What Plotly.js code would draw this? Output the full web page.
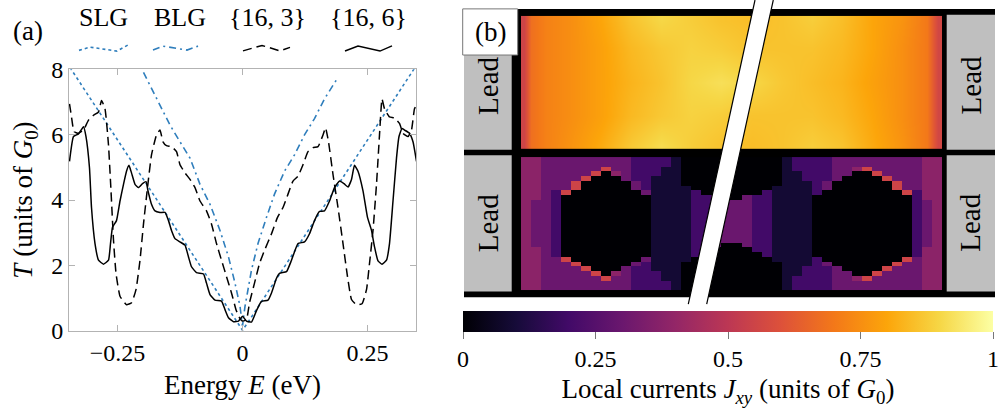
<!DOCTYPE html>
<html><head><meta charset="utf-8">
<script src="https://cdn.plot.ly/plotly-3.0.1.min.js"></script>
<style>html,body{margin:0;padding:0;background:#fff}#chart{width:1003px;height:408px}</style>
</head><body><div id="chart"></div>
<script>
// ---------- Panel (a) data: transmission T vs energy E ----------
const slgE = [-0.345,-0.3,-0.25,-0.2,-0.15,-0.1,-0.05,-0.02,0,0.02,0.05,0.1,0.15,0.2,0.25,0.3,0.345];
const slgT = [8.05,7.0,5.85,4.68,3.5,2.34,1.17,0.47,0.02,0.47,1.17,2.34,3.5,4.68,5.85,7.0,8.05];

const blgE = [-0.198,-0.172,-0.145,-0.125,-0.105,-0.085,-0.065,-0.045,-0.028,-0.015,-0.005,0,0.005,0.018,0.031,0.048,0.064,0.084,0.104,0.124,0.144,0.164,0.191];
const blgT = [7.9,7.09,6.29,5.78,5.28,4.48,3.87,3.07,2.26,1.46,0.75,0.15,0.75,1.86,2.67,3.47,4.18,4.88,5.38,5.99,6.49,7.09,7.75];

const e163 = [-0.346,-0.342,-0.337,-0.328,-0.318,-0.308,-0.298,-0.288,-0.282,-0.275,-0.268,-0.263,-0.258,-0.253,-0.245,-0.232,-0.222,-0.213,-0.205,-0.198,-0.190,-0.182,-0.172,-0.165,-0.159,-0.152,-0.142,-0.132,-0.125,-0.115,-0.105,-0.095,-0.085,-0.072,-0.062,-0.052,-0.042,-0.032,-0.022,-0.013,-0.006,0,
  0.008,0.014,0.024,0.034,0.044,0.058,0.070,0.081,0.091,0.101,0.111,0.121,0.131,0.141,0.151,0.161,0.166,0.172,0.181,0.191,0.201,0.210,0.218,0.228,0.239,0.248,0.254,0.261,0.268,0.274,0.279,0.284,0.294,0.304,0.314,0.321,0.331,0.338,0.344,0.348];
const t163 = [6.94,6.54,6.09,6.04,6.14,6.44,6.59,6.69,7.04,6.79,5.68,4.28,2.77,1.76,1.06,0.80,0.86,1.26,2.16,3.27,4.38,5.38,5.99,6.14,5.78,5.66,5.63,5.48,5.08,4.83,4.63,4.38,3.97,3.67,3.27,2.67,2.16,1.66,1.16,0.65,0.40,0.30,
  0.35,0.86,1.46,2.06,2.46,2.97,3.47,3.77,4.18,4.58,4.73,5.08,5.48,5.60,5.63,5.99,6.21,5.78,4.78,3.77,2.67,1.66,0.96,0.80,0.83,1.26,2.06,3.07,4.48,5.99,7.09,6.79,6.54,6.51,6.34,6.04,5.94,6.14,6.79,6.89];

const e166 = [-0.346,-0.338,-0.328,-0.318,-0.313,-0.306,-0.302,-0.295,-0.288,-0.278,-0.268,-0.264,-0.260,-0.252,-0.245,-0.238,-0.232,-0.227,-0.222,-0.215,-0.208,-0.200,-0.193,-0.189,-0.182,-0.175,-0.165,-0.155,-0.148,-0.142,-0.135,-0.125,-0.115,-0.108,-0.102,-0.092,-0.078,-0.072,-0.065,-0.055,-0.042,-0.035,-0.028,-0.018,-0.008,0,
  0.008,0.018,0.028,0.038,0.051,0.058,0.068,0.074,0.088,0.098,0.111,0.124,0.134,0.144,0.154,0.164,0.174,0.184,0.194,0.203,0.211,0.218,0.224,0.231,0.241,0.250,0.258,0.264,0.271,0.279,0.288,0.294,0.301,0.308,0.313,0.319,0.324,0.334,0.341,0.348];
const t166 = [5.18,5.94,6.02,6.24,5.94,4.98,3.77,2.67,2.16,2.04,2.16,2.67,3.17,3.37,3.97,4.48,4.88,5.06,4.83,4.48,4.38,4.50,4.56,4.28,3.87,3.67,3.62,3.62,3.37,3.07,2.82,2.72,2.62,2.26,1.96,1.78,1.74,1.46,1.11,0.94,0.91,0.65,0.40,0.28,0.30,0.45,
  0.30,0.27,0.62,0.90,0.94,1.16,1.61,1.76,1.81,2.16,2.67,2.72,2.97,3.37,3.65,3.67,3.97,4.38,4.58,4.50,4.40,4.63,5.06,4.88,4.28,3.47,3.07,2.57,2.14,2.04,2.16,2.67,3.97,5.28,5.94,6.19,6.14,6.04,5.78,5.18];

const seriesNames = ['SLG','BLG','{16, 3}','{16, 6}'];
const xTickVals = [-0.25, 0, 0.25];
const xTickText = ['\u22120.25', '0', '0.25'];
const yTickVals = [0, 2, 4, 6, 8];

// ---------- Panel (b) data: local currents ----------
// top map (pristine ribbon): coarse grid, smoothed
const mapTopX = [0.25,1.0,2.5,5,8,11,14,17,20,23,26,29,32,35,38,40.5,41.6];
const mapTopY = [0.5,3.5,7,10.5,13.5];
const mapTopZ = [
  [0.55,0.68,0.72,0.75,0.80,0.86,0.90,0.88,0.86,0.85,0.86,0.88,0.85,0.80,0.76,0.70,0.56],
  [0.55,0.68,0.72,0.75,0.79,0.84,0.87,0.89,0.88,0.86,0.86,0.86,0.84,0.80,0.75,0.70,0.56],
  [0.55,0.68,0.72,0.75,0.79,0.83,0.86,0.90,0.92,0.90,0.87,0.85,0.83,0.79,0.75,0.70,0.56],
  [0.55,0.68,0.72,0.75,0.79,0.84,0.87,0.89,0.88,0.86,0.86,0.86,0.84,0.80,0.75,0.70,0.56],
  [0.55,0.68,0.72,0.76,0.81,0.87,0.91,0.88,0.86,0.85,0.86,0.88,0.86,0.81,0.76,0.70,0.56]
];
// bottom map (device with antidots): one run-length string per column (left to right),
// cells top to bottom; "v*n" = n cells of level v, '.' = no current
const mapBottomCols = [
  "4*28", "4*9,3*10,4*9", "3*28", "3*7,2*14,3*7",
  "3*7,5,.*13,5,3*6", "3*5,5*2,.*15,5,3*5", "3*4,5,.*18,5,3*4", "3*3,5,.*20,5,3*3",
  "3*2,5,.*22,5,3*2", "3*3,4,.*20,4,3*3", "3*5,.*18,3*5", "2*5,3*2,.*15,3,2*5",
  "2*7,3,.*13,3,2*6", "2*4,1*20,2*4", "2*2,1*24,2*2", "1*28",
  ".*6,1*16,.*6", ".*7,2*14,.*7", ".*8,2*12,.*8", ".*8,3*11,.*9", ".*9,3*9,.*10",
  ".*9,3*9,.*10", ".*8,3*11,.*9", ".*8,2*12,.*8", ".*7,2*14,.*7", ".*6,1*16,.*6",
  "1*28", "2*3,1*22,2*3", "2*5,1*18,2*5", "2*8,.*13,2*7",
  "2*5,3*2,.*15,3,2*5", "3*5,.*18,3*5", "3*4,.*20,3*4", "3*2,4,.*22,4,3*2",
  "3*2,5,.*22,5,3*2", "3*3,5,.*20,5,3*3", "3*4,5,.*18,5,3*4", "3*5,5*2,.*15,5,3*5",
  "3*7,5,.*13,5,3*6", "3*7,2*14,3*7", "4*9,3*10,4*9", "4*28"
];
const bottomLevels = [0, 0.09, 0.2, 0.3, 0.38, 0.55];

const cbTickVals = [0, 0.25, 0.5, 0.75, 1];
const cbTickText = ['0', '0.25', '0.5', '0.75', '1'];

const inferno = [
  [0.0,'#000004'],[0.1,'#160b39'],[0.2,'#420a68'],[0.3,'#6a176e'],[0.4,'#932667'],
  [0.5,'#bc3754'],[0.6,'#dd513a'],[0.7,'#f37819'],[0.8,'#fca50a'],[0.9,'#f6d746'],[1.0,'#fcffa4']
];

function decodeColumn(s) {
  const out = [];
  s.split(',').forEach(tok => {
    const parts = tok.split('*');
    const n = parts.length > 1 ? Number(parts[1]) : 1;
    const v = parts[0] === '.' ? 0 : bottomLevels[Number(parts[0])];
    for (let k = 0; k < n; k++) out.push(v);
  });
  return out;
}
const mapBottomZ = mapBottomCols.map(decodeColumn);

// ---------- layout helpers (pixel -> paper) ----------
const W = 1003, H = 408;
const PX = x => x / W;
const PY = y => 1 - y / H;
const FONT = 'Liberation Serif, Times New Roman, serif';
const blue = '#2f7ebc';
const dash163 = '9px,5px';
const dashBLG = '7px,4px,2px,4px';

const traces = [
  {x: slgE, y: slgT, name: seriesNames[0], type: 'scatter', mode: 'lines',
   line: {color: blue, width: 1.6, dash: 'dot'}, xaxis: 'x', yaxis: 'y'},
  {x: blgE, y: blgT, name: seriesNames[1], type: 'scatter', mode: 'lines',
   line: {color: blue, width: 1.6, dash: dashBLG}, xaxis: 'x', yaxis: 'y'},
  {x: e163, y: t163, name: seriesNames[2], type: 'scatter', mode: 'lines',
   line: {color: '#000', width: 1.5, dash: dash163, shape: 'spline', smoothing: 0.4}, xaxis: 'x', yaxis: 'y'},
  {x: e166, y: t166, name: seriesNames[3], type: 'scatter', mode: 'lines',
   line: {color: '#000', width: 1.5, shape: 'spline', smoothing: 0.4}, xaxis: 'x', yaxis: 'y'},
  {type: 'heatmap', x: mapTopX, y: mapTopY, z: mapTopZ, zsmooth: 'best',
   coloraxis: 'coloraxis', xaxis: 'x2', yaxis: 'y2', hoverinfo: 'skip'},
  {type: 'heatmap', z: mapBottomZ, transpose: true, x0: 0.5, dx: 1, y0: 0.5, dy: 1, zsmooth: false,
   coloraxis: 'coloraxis', xaxis: 'x3', yaxis: 'y3', hoverinfo: 'skip'}
];

function path(pts) {
  return pts.map((p, i) => (i ? 'L' : 'M') + PX(p[0]).toFixed(5) + ',' + PY(p[1]).toFixed(5)).join(' ');
}

const shapes = [
  {type: 'rect', xref: 'paper', yref: 'paper', x0: PX(464), x1: PX(995), y0: PY(301), y1: PY(9),
   fillcolor: '#000', line: {width: 0}, layer: 'below'},
  {type: 'rect', xref: 'paper', yref: 'paper', x0: PX(464), x1: PX(511.7), y0: PY(151.7), y1: PY(15), fillcolor: '#bfbfbf', line: {width: 0}, layer: 'below'},
  {type: 'rect', xref: 'paper', yref: 'paper', x0: PX(464), x1: PX(511.7), y0: PY(295), y1: PY(157.3), fillcolor: '#bfbfbf', line: {width: 0}, layer: 'below'},
  {type: 'rect', xref: 'paper', yref: 'paper', x0: PX(946.7), x1: PX(995), y0: PY(151.7), y1: PY(15), fillcolor: '#bfbfbf', line: {width: 0}, layer: 'below'},
  {type: 'rect', xref: 'paper', yref: 'paper', x0: PX(946.7), x1: PX(995), y0: PY(295), y1: PY(157.3), fillcolor: '#bfbfbf', line: {width: 0}, layer: 'below'},
  {type: 'rect', xref: 'paper', yref: 'paper', x0: PX(462.7), x1: PX(517.7), y0: PY(55.7), y1: PY(9),
   fillcolor: '#fff', line: {color: '#777', width: 1}, layer: 'above'},
  {type: 'path', xref: 'paper', yref: 'paper', path: path([[755,0],[773.3,0],[706.7,308],[688.3,308]]) + ' Z',
   fillcolor: '#fff', line: {width: 0}, layer: 'above'},
  {type: 'line', xref: 'paper', yref: 'paper', x0: PX(755), y0: PY(0), x1: PX(688.3), y1: PY(308), line: {color: '#000', width: 1.2}, layer: 'above'},
  {type: 'line', xref: 'paper', yref: 'paper', x0: PX(773.3), y0: PY(0), x1: PX(706.7), y1: PY(308), line: {color: '#000', width: 1.2}, layer: 'above'},
  {type: 'path', xref: 'paper', yref: 'paper', path: path([[79,51],[90,47.7],[117,51.7],[128,45.5]]), line: {color: blue, width: 1.6, dash: 'dot'}},
  {type: 'path', xref: 'paper', yref: 'paper', path: path([[153,50.7],[163,46.7],[187,50.7],[198,46.7]]), line: {color: blue, width: 1.6, dash: dashBLG}},
  {type: 'path', xref: 'paper', yref: 'paper', path: path([[243,51.5],[262,46],[280,51.5],[290,48]]), line: {color: '#000', width: 1.5, dash: dash163}},
  {type: 'path', xref: 'paper', yref: 'paper', path: path([[345,51.7],[358,46.5],[380,51.7],[392,46.5]]), line: {color: '#000', width: 1.5}}
];

function ann(x, y, text, size, extra) {
  return Object.assign({xref: 'paper', yref: 'paper', x: PX(x), y: PY(y), xanchor: 'center', yanchor: 'middle',
    showarrow: false, text: text, font: {family: FONT, size: size, color: '#000'}}, extra || {});
}

const annotations = [
  ann(28, 31, '(a)', 27),
  ann(103.5, 18, seriesNames[0], 26),
  ann(180, 18, seriesNames[1], 26),
  ann(267, 18, seriesNames[2], 26),
  ann(368, 18, seriesNames[3], 26),
  ann(490, 32, '(b)', 27),
  ann(488, 87, 'Lead', 29, {textangle: -90}),
  ann(488, 226, 'Lead', 29, {textangle: -90}),
  ann(970.5, 87, 'Lead', 29, {textangle: -90}),
  ann(970.5, 226, 'Lead', 29, {textangle: -90})
];

const axLine = '#b3b3b3';
const layout = {
  width: W, height: H,
  margin: {l: 0, r: 0, t: 0, b: 0},
  paper_bgcolor: '#fff', plot_bgcolor: 'rgba(0,0,0,0)',
  showlegend: false,
  font: {family: FONT, size: 24, color: '#000'},
  xaxis: {domain: [PX(69), PX(416)], range: [-0.347, 0.347], anchor: 'y',
    tickvals: xTickVals, ticktext: xTickText, ticks: 'inside', ticklen: 6, tickcolor: axLine,
    showline: true, linecolor: axLine, linewidth: 1, mirror: 'ticks', showgrid: false, zeroline: false,
    tickfont: {family: FONT, size: 24},
    title: {text: 'Energy <i>E</i> (eV)', font: {family: FONT, size: 27}, standoff: 10}},
  yaxis: {domain: [PY(335), PY(70)], range: [0, 8], anchor: 'x',
    tickvals: yTickVals, ticks: 'inside', ticklen: 6, tickcolor: axLine,
    showline: true, linecolor: axLine, linewidth: 1, mirror: 'ticks', showgrid: false, zeroline: false,
    tickfont: {family: FONT, size: 24},
    title: {text: '<i>T</i> (units of <i>G</i><sub>0</sub>)', font: {family: FONT, size: 27}, standoff: 10}},
  xaxis2: {domain: [PX(521), PX(942)], range: [0, 42], anchor: 'y2', visible: false},
  yaxis2: {domain: [PY(151), PY(16)], range: [14, 0], anchor: 'x2', visible: false},
  xaxis3: {domain: [PX(521), PX(942)], range: [0, 42], anchor: 'y3', visible: false},
  yaxis3: {domain: [PY(294), PY(159)], range: [28, 0], anchor: 'x3', visible: false},
  coloraxis: {
    colorscale: inferno, cmin: 0, cmax: 1,
    colorbar: {orientation: 'h', x: PX(728), xanchor: 'center', y: PY(315), yanchor: 'top',
      lenmode: 'pixels', len: 530, thicknessmode: 'pixels', thickness: 21, xpad: 0, ypad: 0,
      outlinewidth: 0, ticks: 'outside', ticklen: 7, tickcolor: '#777', tickwidth: 1,
      tickvals: cbTickVals, ticktext: cbTickText, tickfont: {family: FONT, size: 24},
      title: {text: 'Local currents <i>J<sub>xy</sub></i> (units of <i>G</i><sub>0</sub>)', side: 'bottom',
        font: {family: FONT, size: 27}}}
  },
  shapes: shapes,
  annotations: annotations
};

Plotly.newPlot('chart', traces, layout, {staticPlot: true, displayModeBar: false});
</script></body></html>
